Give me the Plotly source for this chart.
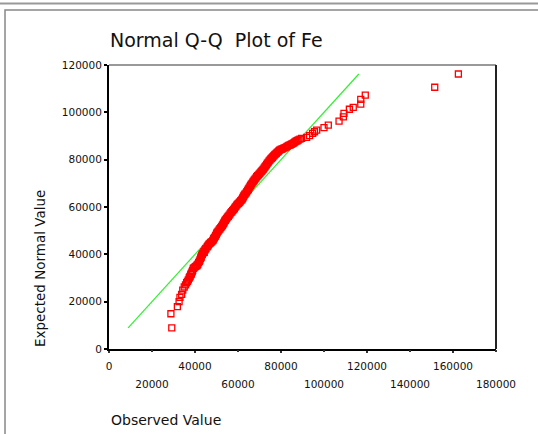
import plotly.graph_objects as go

observed = [29200, 28800, 31800, 32600, 33000, 33800, 34300, 35000, 35600, 36100,
            36900, 37300, 37700, 38000, 38300, 38600, 38900, 39200, 39900, 40800,
            41300, 41700, 42300, 42600, 42900, 43100, 43600, 44100, 44600, 45100,
            45700, 46200, 46900, 47700, 48500, 49000, 49600, 50100, 50800, 51600,
            52400, 53000, 53500, 54100, 54700, 55500, 56300, 57100, 57900, 58600,
            59400, 60200, 61000, 61700, 62200, 62700, 63300, 63800, 64500, 65100,
            65800, 66500, 67200, 68000, 68700, 69500, 70300, 71000, 71800, 72600,
            73300, 74100, 74900, 75600, 76300, 77000, 77800, 78700, 79500, 80700,
            81900, 83000, 84200, 85100, 86100, 87000, 88000, 88800, 89600, 91900,
            93300, 94700, 95600, 96600, 100000, 102000, 107000, 109000, 109300, 111800,
            113600, 117100, 117100, 119200, 151500, 162500,
            36500, 37500, 38200, 38800, 39500, 40300, 41000, 42000, 42800, 43400,
            44300, 44900, 45900, 46500, 47300, 48200, 48700, 49400, 49900, 50400,
            51200, 52000, 52700, 53300, 53800, 54400, 55100, 55900, 56700, 57500,
            58300, 59000, 59800, 60600, 61300, 62000, 62500, 63000, 64100, 64800,
            65500, 66100, 66900, 67600, 68400, 69100, 69900, 70700, 71400, 72200,
            73000, 73700, 74500, 75300, 76000, 76700, 77400, 78200, 79100, 80100,
            81300, 82500, 83600, 84700, 85600, 86500, 87500]
expected = [8900, 14900, 17900, 20000, 21800, 23100, 24900, 26200, 27100, 28000,
            29200, 30000, 30700, 31300, 31900, 32500, 33200, 34100, 34600, 35100,
            35800, 36500, 37600, 38300, 39000, 39700, 40400, 41100, 41800, 42500,
            43200, 43900, 44600, 45300, 46100, 47000, 47900, 48900, 49800, 50800,
            51700, 52600, 53500, 54400, 55200, 56100, 57100, 58000, 58900, 59800,
            60800, 61500, 62300, 63000, 63800, 64700, 65500, 66000, 67000, 68000,
            69000, 70000, 70900, 71900, 72800, 73600, 74400, 75200, 76000, 77000,
            78000, 79000, 79900, 80600, 81300, 82000, 82700, 83400, 84100, 84600,
            85100, 85700, 86200, 86700, 87200, 87800, 88300, 88700, 89000, 89400,
            90200, 91100, 91800, 92500, 93500, 94600, 96300, 98100, 99600, 101300,
            102100, 103500, 105500, 107300, 110600, 116200,
            28600, 30400, 31600, 32900, 34300, 34900, 35500, 37000, 38700, 40000,
            40800, 42200, 43500, 44300, 45000, 45700, 46600, 47500, 48400, 49400,
            50300, 51300, 52200, 53100, 54000, 54800, 55700, 56600, 57600, 58500,
            59300, 60300, 61200, 61900, 62700, 63400, 64300, 65100, 66500, 67500,
            68500, 69500, 70500, 71400, 72300, 73200, 74000, 74800, 75600, 76500,
            77500, 78500, 79500, 80300, 81000, 81700, 82300, 83100, 83800, 84400,
            84900, 85400, 86000, 86500, 86900, 87500, 88000]

ref_line = [8900, 116200]

x_ticks_row1 = [0, 40000, 80000, 120000, 160000]
x_ticks_row2 = [20000, 60000, 100000, 140000, 180000]
y_ticks = [0, 20000, 40000, 60000, 80000, 100000, 120000]

FONT = "DejaVu Sans"

fig = go.Figure()
fig.add_trace(go.Scatter(x=ref_line, y=ref_line, mode="lines",
                         line=dict(color="#33ee33", width=1.2),
                         showlegend=False, hoverinfo="skip"))
fig.add_trace(go.Scatter(x=observed, y=expected, mode="markers",
                         marker=dict(symbol="square-open", size=6, color="#ff0000",
                                     line=dict(width=1.3, color="#ff0000")),
                         showlegend=False))
# dummy trace to activate second x-axis for staggered labels
fig.add_trace(go.Scatter(x=[None], y=[None], xaxis="x2", showlegend=False))

fig.update_layout(
    width=538, height=434,
    margin=dict(l=109, r=42, t=65, b=85),
    paper_bgcolor="white", plot_bgcolor="white",
    font=dict(family=FONT, color="#111"),
    xaxis=dict(range=[0, 180000], tickvals=x_ticks_row1,
               ticktext=[str(v) for v in x_ticks_row1],
               showgrid=False, zeroline=False,
               showline=True, linecolor="black", linewidth=2,
               ticks="outside", ticklen=2, tickwidth=2, tickcolor="#333",
               ticklabelstandoff=4,
               tickfont=dict(size=10.5, family=FONT, color="#111")),
    xaxis2=dict(range=[0, 180000], overlaying="x", anchor="y", side="bottom",
                tickvals=x_ticks_row2, ticktext=[str(v) for v in x_ticks_row2],
                showgrid=False, zeroline=False, showline=False,
                ticks="outside", ticklen=2, tickwidth=2, tickcolor="#333",
                ticklabelstandoff=23,
                tickfont=dict(size=10.5, family=FONT, color="#111")),
    yaxis=dict(range=[0, 120000], tickvals=y_ticks,
               ticktext=[str(v) for v in y_ticks],
               showgrid=False, zeroline=False,
               showline=True, linecolor="black", linewidth=2,
               ticks="outside", ticklen=3, tickwidth=2, tickcolor="black",
               tickfont=dict(size=10.5, family=FONT, color="#111")),
    shapes=[
        dict(type="line", xref="paper", yref="paper", x0=0, x1=1, y0=1, y1=1,
             line=dict(color="#777", width=1.5)),
        dict(type="line", xref="paper", yref="paper", x0=1, x1=1, y0=0, y1=1,
             line=dict(color="#222", width=2)),
        dict(type="line", xref="paper", yref="paper", x0=-0.3, x1=1.15,
             y0=1.2165, y1=1.2165, line=dict(color="#999", width=2)),
        dict(type="rect", xref="paper", yref="paper", x0=-0.2687, x1=1.15,
             y0=-0.35, y1=1.1937, line=dict(color="#888", width=1.5)),
    ],
    annotations=[
        dict(text="Normal Q-Q  Plot of Fe", xref="paper", yref="paper",
             x=-0.003, y=1.088, xanchor="left", yanchor="middle", showarrow=False,
             font=dict(size=19, family=FONT, color="#111")),
        dict(text="Observed Value", xref="paper", yref="paper",
             x=0, y=-0.25, xanchor="left", yanchor="middle", showarrow=False,
             font=dict(size=14, family=FONT, color="#111")),
        dict(text="Expected Normal Value", xref="paper", yref="paper",
             x=-0.178, y=0, xanchor="center", yanchor="bottom", textangle=-90,
             showarrow=False, font=dict(size=13.5, family=FONT, color="#111")),
    ],
)

fig.write_html("out.html", config={"displayModeBar": False},
               post_script="document.body.style.margin='0';document.body.style.overflow='hidden';")
